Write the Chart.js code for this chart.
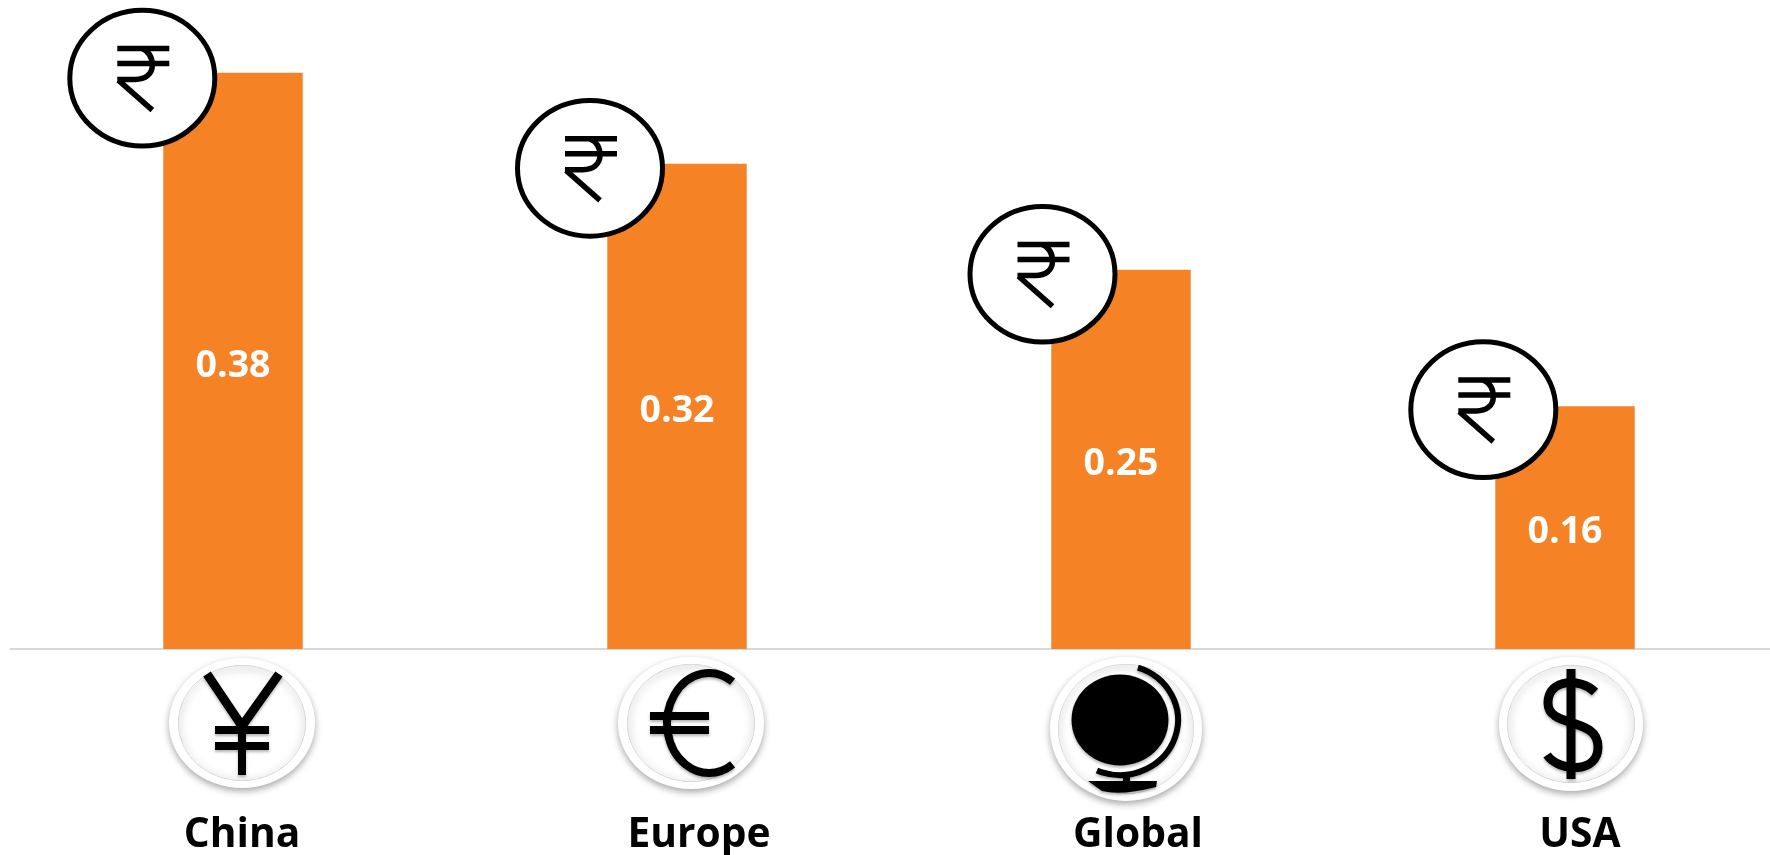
<!DOCTYPE html>
<html><head><meta charset="utf-8">
<style>html,body{margin:0;padding:0;background:#fff;overflow:hidden;width:1770px;height:855px}canvas{display:block}</style>
<script src="https://cdn.jsdelivr.net/npm/chart.js@4"></script>
</head><body>
<canvas id="c" width="1787" height="855" style="width:1787px;height:855px"></canvas>
<script>
const categories = ["China", "Europe", "Global", "USA"];
const values = [0.38, 0.32, 0.25, 0.16];
const axisMax = 0.4279;
const rupeeOffsets = [[-90.7, 5.5], [-87, 4.7], [-78.5, 4.4], [-81.7, 3.3]];
const badgeOffsets = [[9, 74], [14, 74], [5, 80], [6, 75]];
const badgeRadii = [[73, 65, 64, 58], [73, 66, 64, 59], [76, 72, 68, 65], [72, 67, 64, 59]];
const labelOffsets = [9, 22, 17, 15];

function ell(x, cx, cy, rx, ry){ x.beginPath(); x.ellipse(cx, cy, rx, ry, 0, 0, Math.PI*2); }
function seg(x, a, b, c, d){ x.beginPath(); x.moveTo(a,b); x.lineTo(c,d); x.stroke(); }

function rupee(x, cx, cy){
  x.save();
  x.fillStyle = '#fff'; x.strokeStyle = '#000'; x.lineWidth = 5;
  ell(x, cx, cy, 72.5, 67.8); x.fill(); x.stroke();
  x.translate(cx, cy);
  x.lineWidth = 5.5; x.lineCap = 'butt';
  seg(x, -25, -29.7, 27, -29.7);
  seg(x, -25, -14.7, 27, -14.7);
  x.beginPath(); x.moveTo(0, -29.7);
  x.bezierCurveTo(8, -26, 10, -19, 10, -13);
  x.bezierCurveTo(10, -4, 3, 1.3, -7, 1.3);
  x.lineTo(-25, 1.3); x.stroke();
  seg(x, -24, 2, 10, 32);
  x.restore();
}

function badge(x, cx, cy, r){
  x.save();
  x.save();
  x.shadowColor = 'rgba(0,0,0,.35)'; x.shadowBlur = 7; x.shadowOffsetY = 3;
  x.fillStyle = '#fff'; ell(x, cx, cy, r[0], r[1]); x.fill();
  x.restore();
  x.save();
  ell(x, cx, cy, r[2], r[3]); x.clip();
  x.shadowColor = 'rgba(0,0,0,.7)'; x.shadowBlur = 8; x.shadowOffsetY = 2;
  x.strokeStyle = '#ccc'; x.lineWidth = 1;
  ell(x, cx, cy, r[2], r[3]); x.stroke();
  x.restore();
  x.restore();
}

function glyph(x, i, cx, cy){
  x.save();
  x.translate(cx, cy);
  x.strokeStyle = '#000'; x.fillStyle = '#000'; x.lineCap = 'butt';
  x.shadowColor = 'rgba(0,0,0,.3)'; x.shadowBlur = 3; x.shadowOffsetY = 2;
  if (i === 0) {
    x.lineWidth = 9;
    x.beginPath(); x.moveTo(-35, -49); x.lineTo(0, 3); x.lineTo(37, -49); x.stroke();
    x.lineWidth = 8; seg(x, 0, 0, 0, 52);
    x.lineWidth = 8; seg(x, -27, 7, 27, 7); seg(x, -27, 23, 27, 23);
  } else if (i === 1) {
    x.lineWidth = 8;
    x.beginPath();
    x.ellipse(18, 0, 42, 50, 0, -Math.PI*0.31, Math.PI*0.31, true);
    x.stroke();
    seg(x, -41, -7, 18, -7); seg(x, -41, 7, 18, 7);
  } else if (i === 2) {
    ell(x, -6, -9, 48.5, 45.5); x.fill();
    x.lineWidth = 6;
    x.beginPath();
    x.ellipse(-6, -9, 58, 55, 0, -Math.PI*0.40, Math.PI*0.63);
    x.stroke();
    x.fillRect(-3, 43, 7, 12);
    x.beginPath(); x.moveTo(-38, 52); x.lineTo(31, 52); x.lineTo(30, 58);
    x.quadraticCurveTo(-5, 67, -24, 62); x.closePath(); x.fill();
  } else {
    x.lineWidth = 9;
    seg(x, 0, -55, 0, 55);
    x.beginPath();
    x.moveTo(24, -32);
    x.bezierCurveTo(10, -46, -23, -46, -23, -21);
    x.bezierCurveTo(-23, 5, 27, -8, 27, 23);
    x.bezierCurveTo(27, 50, -12, 48, -24, 31);
    x.stroke();
  }
  x.restore();
}

const overlay = {
  id: 'overlay',
  afterDatasetsDraw(chart){
    const x = chart.ctx, bars = chart.getDatasetMeta(0).data, sx = chart.scales.x;
    bars.forEach((b, i) => {
      x.save();
      x.fillStyle = '#fff';
      x.font = 'bold 37.5px "Open Sans"';
      x.textAlign = 'center'; x.textBaseline = 'middle';
      x.fillText(values[i].toFixed(2), b.x, (b.y + b.base) / 2 + 5);
      x.restore();
      rupee(x, b.x + rupeeOffsets[i][0], b.y + rupeeOffsets[i][1]);
      const bx = b.x + badgeOffsets[i][0], by = b.base + badgeOffsets[i][1];
      badge(x, bx, by, badgeRadii[i]);
      glyph(x, i, bx, by);
      x.save();
      x.fillStyle = '#000';
      x.font = 'bold 42px "Open Sans"';
      x.textAlign = 'center'; x.textBaseline = 'alphabetic';
      x.translate(sx.getPixelForTick(i) + labelOffsets[i], b.base + 198);
      x.scale(0.97, 1);
      x.fillText(categories[i], 0, 0);
      x.restore();
    });
  }
};

new Chart(document.getElementById('c'), {
  type: 'bar',
  data: { labels: categories, datasets: [{ data: values, backgroundColor: '#f58225', barPercentage: 1, categoryPercentage: 0.314 }] },
  options: {
    responsive: false, animation: false, devicePixelRatio: 1,
    layout: { padding: { left: 11, right: 0, top: 0, bottom: 0 } },
    plugins: { legend: { display: false }, tooltip: { enabled: false } },
    scales: {
      x: {
        afterFit(s){ s.height = 206; },
        grid: { display: false, drawTicks: false },
        border: { color: '#d9d9d9', width: 2 },
        ticks: { display: false }
      },
      y: { display: false, min: 0, max: axisMax }
    }
  },
  plugins: [overlay]
});
</script>
</body></html>
